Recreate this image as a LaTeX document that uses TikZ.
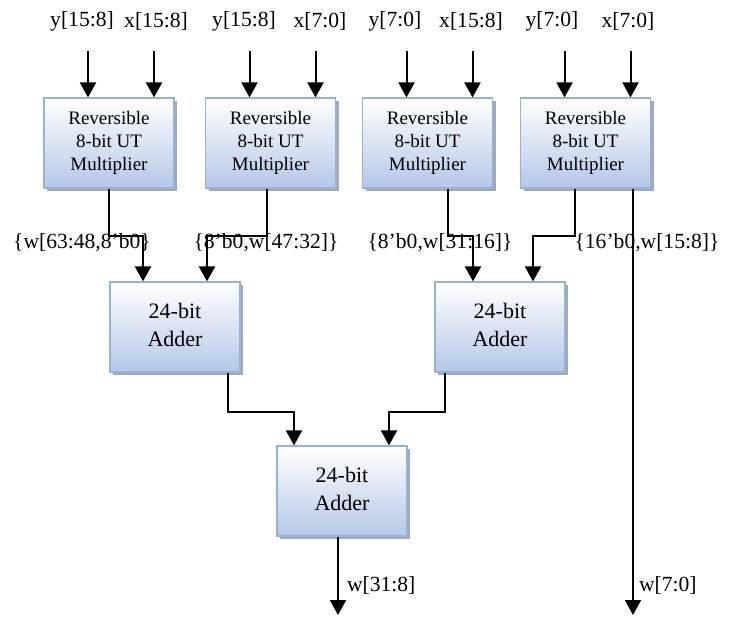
\documentclass[tikz,border=0pt]{standalone}
\usepackage{fontspec}
\setmainfont{Liberation Serif}
\usetikzlibrary{arrows.meta}
\usetikzlibrary{math}
\usetikzlibrary{shadows}

\definecolor{blkline}{RGB}{149,179,215}
\definecolor{blkfill}{RGB}{180,199,231}
\definecolor{blkshadow}{RGB}{160,170,188}

\newcommand{\addtext}{\raisebox{3pt}{\begin{tabular}{@{}c@{}}24-bit\\Adder\end{tabular}}}

\tikzset{
  blk/.style={draw=blkline, line width=0.6pt, top color=white, bottom color=blkfill,
    drop shadow={shadow xshift=1.5pt, shadow yshift=-1.5pt, fill=blkshadow, opacity=1},
    minimum width=65pt, minimum height=45pt, align=center, inner sep=0pt},
  mult/.style={blk, font=\fontsize{9.5}{11.7}\selectfont},
  adder/.style={blk, font=\fontsize{11}{14}\selectfont},
  sig/.style={line width=1pt, -{Triangle[width=8pt,length=7.5pt]}},
  lbl/.style={inner sep=0pt, font=\fontsize{10.8}{13}\selectfont},
}

\begin{document}
\begin{tikzpicture}[x=0.5pt,y=-0.5pt]
    \tikzmath{  \yt = 21 ;
                \ym = 143 ;
                \yl = 243 ;
                \ya = 327 ;
                \yf = 491 ;
                \ye = 615 ;
                }
    \useasboundingbox (0,0) rectangle (734,617);

    % operands
    \node[lbl] (ya) at (82,\yt) {y[15:8]};
    \node[lbl] (xa) at (156,\yt) {x[15:8]};
    \node[lbl] (yb) at (244,\yt) {y[15:8]};
    \node[lbl] (xb) at (320,\yt) {x[7:0]};
    \node[lbl] (yc) at (395,\yt) {y[7:0]};
    \node[lbl] (xc) at (471,\yt) {x[15:8]};
    \node[lbl] (yd) at (552,\yt) {y[7:0]};
    \node[lbl] (xd) at (628,\yt) {x[7:0]};

    % multipliers and adders
    \node[mult] (M1) at (109,\ym) {Reversible\\8-bit UT\\Multiplier};
    \node[mult] (M2) at (270.5,\ym) {Reversible\\8-bit UT\\Multiplier};
    \node[mult] (M3) at (427.5,\ym) {Reversible\\8-bit UT\\Multiplier};
    \node[mult] (M4) at (585.5,\ym) {Reversible\\8-bit UT\\Multiplier};
    \node[adder] (A1) at (175,\ya) {\addtext};
    \node[adder] (A2) at (500,\ya) {\addtext};
    \node[adder] (A3) at (342,\yf) {\addtext};
    \coordinate (w31) at (338,\ye);
    \coordinate (w7) at (633,\ye);

    % partial products
    \node[lbl] (pa) at (82,\yl) {\{w[63:48,8’b0\}};
    \node[lbl] (pb) at (266,\yl) {\{8’b0,w[47:32]\}};
    \node[lbl] (pc) at (440,\yl) {\{8’b0,w[31:16]\}};
    \node[lbl] (pd) at (647,\yl) {\{16’b0,w[15:8]\}};

    \foreach \m in {M1,M2,M3,M4} {
        \draw[sig] ([xshift=-10.5pt,yshift=23pt]\m.north) -- ([xshift=-10.5pt]\m.north);
        \draw[sig] ([xshift=22.5pt,yshift=23pt]\m.north) -- ([xshift=22.5pt]\m.north);
    }

    \draw[sig] (M1.south) -- ++(0,47) -| ([xshift=-16pt]A1.north);
    \draw[sig] ([xshift=-1.75pt]M2.south) -- ++(0,47) -| ([xshift=16pt]A1.north);
    \draw[sig] ([xshift=10.25pt]M3.south) -- ++(0,47) -| ([xshift=-13.5pt]A2.north);
    \draw[sig] ([xshift=-5.25pt]M4.south) -- ++(0,47) -| ([xshift=16.5pt]A2.north);
    \draw[sig] ([xshift=23.75pt]M4.south) -- node[lbl, pos=0.93, anchor=west, xshift=2.5pt] {w[7:0]} (w7);

    \draw[sig] ([xshift=26.5pt]A1.south) -- ++(0,39) -| ([xshift=-24pt]A3.north);
    \draw[sig] ([xshift=-27.5pt]A2.south) -- ++(0,39) -| ([xshift=23.5pt]A3.north);
    \draw[sig] ([xshift=-2pt]A3.south) -- node[lbl, pos=0.62, anchor=west, xshift=4pt] {w[31:8]} (w31);
\end{tikzpicture}
\end{document}
